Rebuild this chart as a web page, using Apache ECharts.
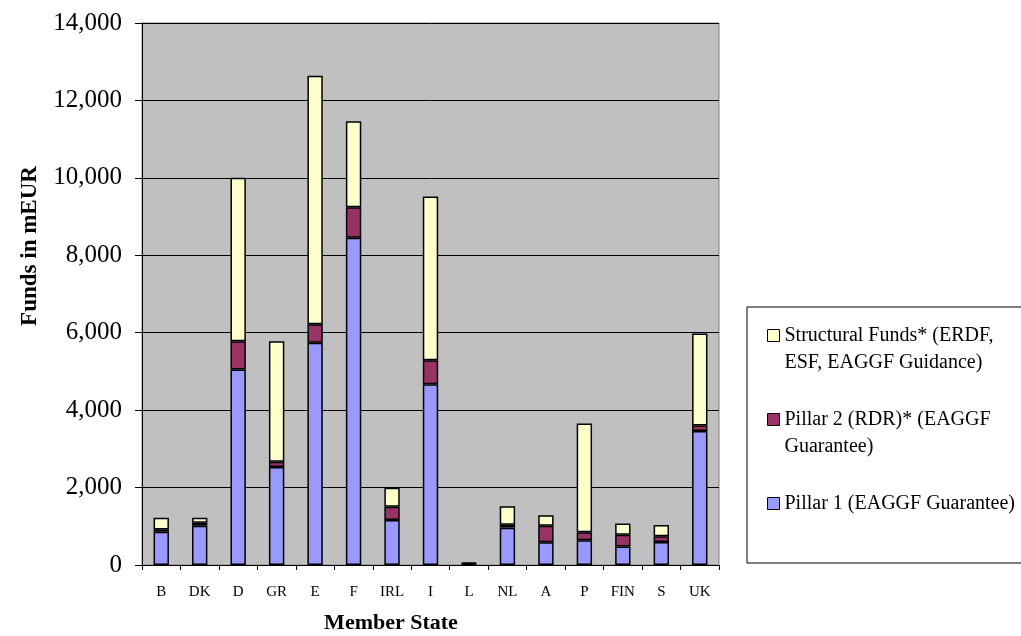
<!DOCTYPE html>
<html>
<head>
<meta charset="utf-8">
<script src="https://cdn.jsdelivr.net/npm/echarts@6/dist/echarts.min.js"></script>
<style>
html,body{margin:0;padding:0;background:#fff;}
#chart{width:1021px;height:636px;}
</style>
</head>
<body>
<div id="chart"></div>
<script>
var categories = ['B','DK','D','GR','E','F','IRL','I','L','NL','A','P','FIN','S','UK'];
var pillar1 = [860, 1015, 5050, 2530, 5740, 8450, 1160, 4670, 30, 965, 585, 640, 480, 595, 3460];
var pillar2 = [60, 75, 730, 140, 480, 790, 345, 620, 10, 75, 430, 205, 300, 145, 145];
var structural = [300, 130, 4220, 3110, 6420, 2220, 490, 4230, 25, 480, 270, 2810, 295, 290, 2375];
var seriesNames = ['Pillar 1 (EAGGF Guarantee)', 'Pillar 2 (RDR)* (EAGGF Guarantee)', 'Structural Funds* (ERDF, ESF, EAGGF Guidance)'];
var legendLabels = {
  'Structural Funds* (ERDF, ESF, EAGGF Guidance)': '\u00a0\nStructural Funds* (ERDF,\nESF, EAGGF Guidance)',
  'Pillar 2 (RDR)* (EAGGF Guarantee)': '\u00a0\nPillar 2 (RDR)* (EAGGF\nGuarantee)',
  'Pillar 1 (EAGGF Guarantee)': '\u00a0\nPillar 1 (EAGGF Guarantee)\n\u00a0'
};
var yTicks = {min: 0, max: 14000, interval: 2000};

var FONT = "'Liberation Serif', 'Times New Roman', serif";
var chart = echarts.init(document.getElementById('chart'));

function barSeries(name, data, color) {
  return {
    name: name, type: 'bar', stack: 'total', data: data, barWidth: '40%',
    itemStyle: {color: color, borderColor: '#000', borderWidth: 1.5},
    emphasis: {disabled: true}
  };
}

chart.setOption({
  animation: false,
  backgroundColor: '#fff',
  grid: {left: 142, right: 302, top: 23, bottom: 71, show: true,
         backgroundColor: '#C0C0C0', borderColor: '#808080', borderWidth: 1},
  xAxis: {
    type: 'category', data: categories,
    axisLine: {lineStyle: {color: '#000', width: 1}},
    axisTick: {show: true, length: 5, lineStyle: {color: '#000'}},
    axisLabel: {color: '#000', fontFamily: FONT, fontSize: 15, margin: 20}
  },
  yAxis: {
    type: 'value', min: yTicks.min, max: yTicks.max, interval: yTicks.interval,
    axisLine: {show: true, lineStyle: {color: '#000', width: 1}},
    axisTick: {show: true, length: 7, lineStyle: {color: '#000'}},
    splitLine: {show: true, lineStyle: {color: '#000', width: 1}},
    axisLabel: {color: '#000', fontFamily: FONT, fontSize: 25, margin: 20,
      formatter: function (v) { return v.toLocaleString('en-US'); }}
  },
  legend: {
    orient: 'vertical', left: 762, top: 290,
    data: [seriesNames[2], seriesNames[1], seriesNames[0]],
    icon: 'rect', itemWidth: 12, itemHeight: 12, itemGap: 3,
    itemStyle: {borderColor: '#000', borderWidth: 1},
    formatter: function (n) { return legendLabels[n]; },
    textStyle: {color: '#000', fontFamily: FONT, fontSize: 20, lineHeight: 27},
    selectedMode: false
  },
  graphic: [
    {type: 'rect', z: 0, shape: {x: 747, y: 307, width: 300, height: 256},
     style: {fill: '#fff', stroke: '#000', lineWidth: 1}},
    {type: 'text', x: 30, y: 246, rotation: Math.PI / 2,
     style: {text: 'Funds in mEUR', fontFamily: FONT, fontSize: 23, fontWeight: 'bold',
             fill: '#000', align: 'center', verticalAlign: 'middle'}},
    {type: 'text', x: 391, y: 623,
     style: {text: 'Member State', fontFamily: FONT, fontSize: 22, fontWeight: 'bold',
             fill: '#000', align: 'center', verticalAlign: 'middle'}}
  ],
  series: [
    barSeries(seriesNames[0], pillar1, '#9999FF'),
    barSeries(seriesNames[1], pillar2, '#993366'),
    barSeries(seriesNames[2], structural, '#FFFFCC')
  ]
});
</script>
</body>
</html>
